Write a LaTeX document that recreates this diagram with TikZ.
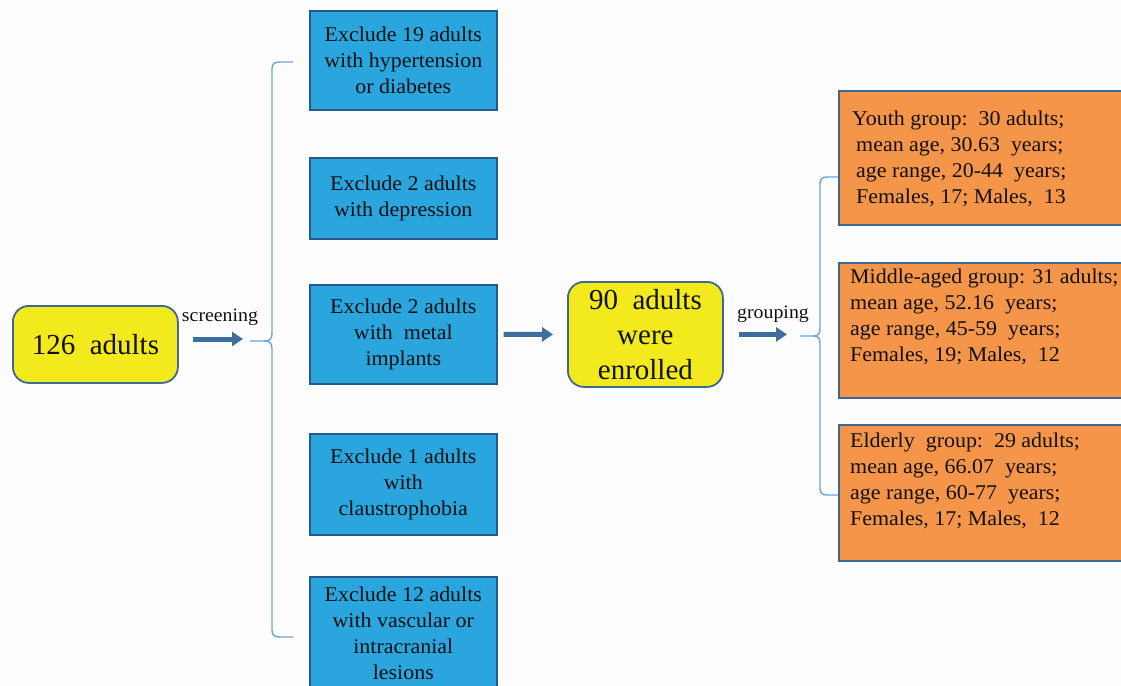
\documentclass[tikz,border=0pt]{standalone}
\usepackage{fontspec}
\setmainfont{Liberation Serif}[FakeStretch=1.045]
\newfontfamily\bigserif{Liberation Serif}
\usetikzlibrary{arrows.meta,calc}
\definecolor{bg}{HTML}{FDFDFE}
\definecolor{yfill}{HTML}{F2EA1D}
\definecolor{yedge}{HTML}{3B6B94}
\definecolor{bfill}{HTML}{2AA5DE}
\definecolor{bedge}{HTML}{24598A}
\definecolor{ofill}{HTML}{F5954A}
\definecolor{oedge}{HTML}{386894}
\definecolor{arrc}{HTML}{3E6D9E}
\definecolor{brc}{HTML}{6AA5DA}
\definecolor{txt}{HTML}{111111}
\begin{document}
\begin{tikzpicture}[x=1pt,y=-1pt,
  excl/.style={draw=bedge, fill=bfill, line width=1.6pt, anchor=north west, minimum width=187pt, align=center, inner sep=0pt, font=\fontsize{21}{26}\selectfont, text=txt},
  ybox/.style={draw=yedge, fill=yfill, line width=1.8pt, rounded corners=16pt, anchor=north west, inner sep=0pt, align=center, text=txt, font=\bigserif\fontsize{29}{35}\selectfont},
  obox/.style={draw=oedge, fill=ofill, line width=1.8pt, anchor=north west, minimum width=300pt, inner sep=0pt},
  otext/.style={anchor=north west, align=left, inner sep=0pt, font=\fontsize{21}{26}\selectfont, text=txt},
  bigarr/.style={arrc, line width=5pt, -{Triangle[length=11pt,width=14pt]}},
  brace/.style={brc, line width=1.4pt},
  lbl/.style={font=\fontsize{19}{20}\selectfont, text=txt, inner sep=0pt, anchor=base}]
\useasboundingbox (0,0) rectangle (1121,685);
\clip (0,0) rectangle (1121,685);
\fill[bg] (0,0) rectangle (1121,685);

% braces
\coordinate (brL) at (250,341);
\coordinate (brR) at (800,336);
\draw[brace] (brL) -- (264,341) .. controls (270,341) and (272,339) .. (272,333) -- (272,69) .. controls (272,64) and (274,62) .. (280,62) -- (293,62);
\draw[brace] (264,341) .. controls (270,341) and (272,343) .. (272,349) -- (272,630) .. controls (272,635) and (274,637) .. (280,637) -- (293,637);
\draw[brace] (brR) -- (813,336) .. controls (818,336) and (820,334) .. (820,329) -- (820,184) .. controls (820,179) and (822,177) .. (827,177) -- (838,177);
\draw[brace] (813,336) .. controls (818,336) and (820,338) .. (820,343) -- (820,488) .. controls (820,493) and (822,495) .. (827,495) -- (838,495);

% start
\node[ybox, minimum width=165pt, minimum height=77pt] (start) at (12,305) {126\ \ adults};

% exclusion boxes
\node[excl, minimum height=99pt] (e1) at (309,10) {Exclude 19 adults\\with hypertension\\or diabetes};
\node[excl, minimum height=81pt] (e2) at (309,157) {Exclude 2 adults\\with depression};
\node[excl, minimum height=99pt] (e3) at (309,284) {Exclude 2 adults\\with\ \ metal\\implants};
\node[excl, minimum height=101pt] (e4) at (309,433) {Exclude 1 adults\\with\\claustrophobia};
\node[excl, minimum height=114pt] (e5) at (309,576) {Exclude 12 adults\\with vascular or\\intracranial\\lesions};

% enrolled
\node[ybox, minimum width=155pt, minimum height=105pt] (enr) at (567,281) {90\ \ adults\\were\\enrolled};

% groups
\node[obox, minimum height=134pt] (g1) at (838,90) {};
\node[obox, minimum height=135pt] (g2) at (838,262) {};
\node[obox, minimum height=136pt] (g3) at (838,424) {};
\node[otext] (t1) at (852,111) {Youth group:\ \ 30 adults;\\\hspace{4pt}mean age, 30.63\ \ years;\\\hspace{4pt}age range, 20-44\ \ years;\\\hspace{4pt}Females, 17; Males,\ \ 13};
\node[otext] (t2) at (850,269) {Middle-aged group: 31 adults;\\mean age, 52.16\ \ years;\\age range, 45-59\ \ years;\\Females, 19; Males,\ \ 12};
\node[otext] (t3) at (850,433) {Elderly\ \ group:\ \ 29 adults;\\mean age, 66.07\ \ years;\\age range, 60-77\ \ years;\\Females, 17; Males,\ \ 12};

% labels
\node[lbl] (ls) at (220,321) {screening};
\node[lbl] (lg) at (773,318) {grouping};

% arrows
\draw[bigarr] ($(start.east |- brL)+(14,-2)$) -- ($(brL)+(-7,-2)$);
\draw[bigarr] ([xshift=6pt]e3.east) -- ([xshift=-14pt]enr.west);
\draw[bigarr] ([xshift=15pt]enr.east) -- ([xshift=-13pt]brR |- enr.east);
\end{tikzpicture}
\end{document}
